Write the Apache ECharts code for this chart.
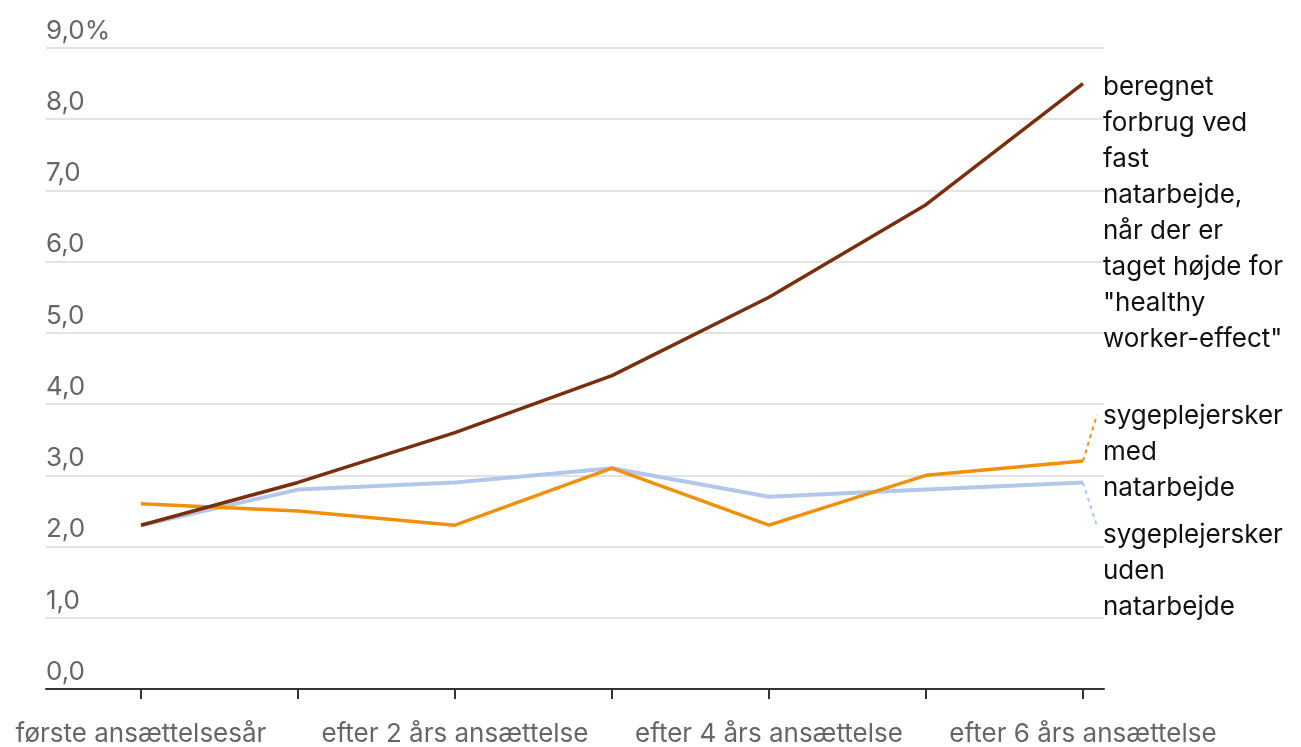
<!DOCTYPE html>
<html>
<head>
<meta charset="utf-8">
<script src="https://cdn.jsdelivr.net/npm/echarts@6/dist/echarts.min.js"></script>
<style>
  html, body { margin: 0; padding: 0; background: #fff; }
  #chart { width: 1301px; height: 747px; }
</style>
</head>
<body>
<div id="chart"></div>
<script>
// Sygefravær (%) efter ansættelsestid
const periods = [
  'første ansættelsesår', 'efter 1 års ansættelse', 'efter 2 års ansættelse',
  'efter 3 års ansættelse', 'efter 4 års ansættelse', 'efter 5 års ansættelse',
  'efter 6 års ansættelse'
];
const labelledPeriods = [0, 2, 4, 6];
const beregnet = [2.3, 2.9, 3.6, 4.4, 5.5, 6.8, 8.5];
const medNat   = [2.6, 2.5, 2.3, 3.1, 2.3, 3.0, 3.2];
const udenNat  = [2.3, 2.8, 2.9, 3.1, 2.7, 2.8, 2.9];

const nameBeregnet = 'beregnet\nforbrug ved\nfast\nnatarbejde,\nnår der er\ntaget højde for\n"healthy\nworker-effect"';
const nameMed = 'sygeplejersker\nmed\nnatarbejde';
const nameUden = 'sygeplejersker\nuden\nnatarbejde';

const FONT = 'Inter, "Liberation Sans", sans-serif';
const toPairs = arr => arr.map((v, i) => [i, v]);
const allTicks = periods.map((_, i) => i);

function endLabel(text, dy) {
  return {
    show: true,
    formatter: () => text,
    color: '#111',
    fontFamily: FONT,
    fontSize: 26,
    lineHeight: 36,
    align: 'left',
    verticalAlign: 'top',
    distance: 20,
    offset: [0, dy]
  };
}

// dashed leader from the last point of a series towards its label
function leader(arr, color, dx, dy) {
  const last = arr.length - 1;
  return {
    silent: true,
    symbol: 'none',
    label: { show: false },
    lineStyle: { color: color, type: [4, 4], width: 2 },
    data: [[{ coord: [last, arr[last]] }, { coord: [last + dx, arr[last] + dy] }]]
  };
}

const chart = echarts.init(document.getElementById('chart'));
chart.setOption({
  animation: false,
  grid: { left: 46, right: 197, top: 48, bottom: 58, containLabel: false },
  xAxis: {
    type: 'value',
    min: -0.605,
    max: 6.134,
    axisLine: { show: true, lineStyle: { color: '#333', width: 2 } },
    axisTick: { show: true, customValues: allTicks, length: 10, lineStyle: { color: '#333', width: 2 } },
    axisLabel: {
      customValues: labelledPeriods,
      formatter: v => periods[Math.round(v)],
      color: '#666',
      fontFamily: FONT,
      fontSize: 26,
      margin: 32
    },
    splitLine: { show: false }
  },
  yAxis: {
    type: 'value',
    min: 0,
    max: 9,
    interval: 1,
    axisLine: { show: false },
    axisTick: { show: false },
    splitLine: { lineStyle: { color: '#e3e3e3', width: 2 } },
    axisLabel: {
      inside: true,
      margin: 0,
      align: 'left',
      verticalAlign: 'bottom',
      padding: [0, 0, 4, 0],
      color: '#666',
      fontFamily: FONT,
      fontSize: 26,
      formatter: v => v.toFixed(1).replace('.', ',') + (v === 9 ? '%' : '')
    }
  },
  series: [
    {
      name: nameUden,
      type: 'line',
      data: toPairs(udenNat),
      symbol: 'none',
      lineStyle: { color: '#b3c7ec', width: 4 },
      itemStyle: { color: '#b3c7ec' },
      endLabel: endLabel(nameUden, 35),
      markLine: leader(udenNat, '#b3c7ec', 0.09, -0.62)
    },
    {
      name: nameMed,
      type: 'line',
      data: toPairs(medNat),
      symbol: 'none',
      lineStyle: { color: '#f0900f', width: 3.5 },
      itemStyle: { color: '#f0900f' },
      endLabel: endLabel(nameMed, -63),
      markLine: leader(medNat, '#f0900f', 0.09, 0.65)
    },
    {
      name: nameBeregnet,
      type: 'line',
      data: toPairs(beregnet),
      symbol: 'none',
      lineStyle: { color: '#7a2f0c', width: 3.5 },
      itemStyle: { color: '#7a2f0c' },
      endLabel: endLabel(nameBeregnet, -14)
    }
  ]
});
</script>
</body>
</html>
